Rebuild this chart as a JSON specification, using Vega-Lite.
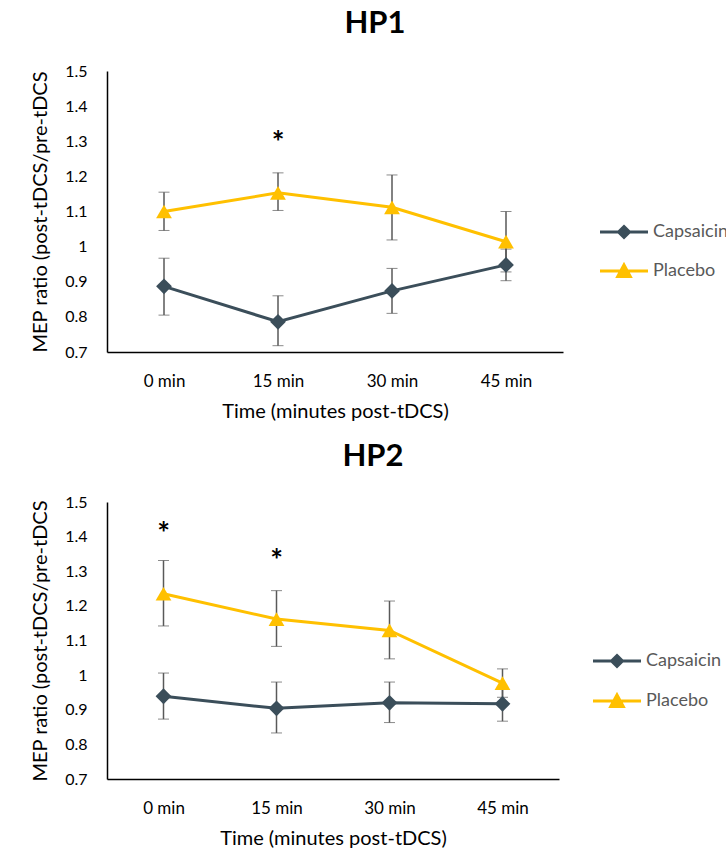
{
  "$schema": "https://vega.github.io/schema/vega-lite/v6.json",
  "padding": {"left": 30, "top": 8, "right": 0, "bottom": 0},
  "background": "white",
  "config": {
    "font": "Lato",
    "view": {"stroke": null},
    "axis": {"grid": false, "ticks": false, "tickSize": 0, "domainColor": "#000000", "domainWidth": 1.5, "labelColor": "#000000", "titleColor": "#000000", "labelFont": "Lato", "titleFont": "Lato", "titleFontWeight": "normal", "labelOverlap": false},
    "title": {"font": "Lato", "fontSize": 31, "fontWeight": "bold", "color": "#000000"},
    "legend": {"padding": 0, "rowPadding": 15}
  },
  "datasets": {
    "hp1": [
      {"group": "Capsaicin", "time": "0 min", "mean": 0.887, "lo": 0.805, "hi": 0.967},
      {"group": "Capsaicin", "time": "15 min", "mean": 0.786, "lo": 0.718, "hi": 0.860},
      {"group": "Capsaicin", "time": "30 min", "mean": 0.874, "lo": 0.810, "hi": 0.938},
      {"group": "Capsaicin", "time": "45 min", "mean": 0.948, "lo": 0.903, "hi": 0.993},
      {"group": "Placebo", "time": "0 min", "mean": 1.100, "lo": 1.046, "hi": 1.155},
      {"group": "Placebo", "time": "15 min", "mean": 1.153, "lo": 1.103, "hi": 1.210},
      {"group": "Placebo", "time": "30 min", "mean": 1.112, "lo": 1.019, "hi": 1.204},
      {"group": "Placebo", "time": "45 min", "mean": 1.014, "lo": 0.928, "hi": 1.100}
    ],
    "hp2": [
      {"group": "Capsaicin", "time": "0 min", "mean": 0.939, "lo": 0.873, "hi": 1.006},
      {"group": "Capsaicin", "time": "15 min", "mean": 0.904, "lo": 0.833, "hi": 0.980},
      {"group": "Capsaicin", "time": "30 min", "mean": 0.920, "lo": 0.863, "hi": 0.980},
      {"group": "Capsaicin", "time": "45 min", "mean": 0.917, "lo": 0.867, "hi": 0.967},
      {"group": "Placebo", "time": "0 min", "mean": 1.235, "lo": 1.142, "hi": 1.331},
      {"group": "Placebo", "time": "15 min", "mean": 1.162, "lo": 1.083, "hi": 1.244},
      {"group": "Placebo", "time": "30 min", "mean": 1.129, "lo": 1.047, "hi": 1.214},
      {"group": "Placebo", "time": "45 min", "mean": 0.977, "lo": 0.936, "hi": 1.018}
    ],
    "stars1": [
      {"time": "15 min", "y": 1.32, "label": "*"}
    ],
    "stars2": [
      {"time": "0 min", "y": 1.433, "label": "*"},
      {"time": "15 min", "y": 1.357, "label": "*"}
    ]
  },
  "spacing": 20,
  "resolve": {"legend": {"color": "independent", "shape": "independent", "stroke": "independent"}},
  "vconcat": [
    {
      "title": {"text": "HP1", "anchor": "middle", "dx": 40, "offset": 23},
      "width": 456,
      "height": 281,
      "data": {"name": "hp1"},
      "resolve": {"scale": {"shape": "independent", "color": "independent", "stroke": "independent"}},
      "encoding": {
        "x": {"field": "time", "type": "ordinal", "sort": ["0 min", "15 min", "30 min", "45 min"], "scale": {"type": "point", "padding": 0.5},
          "axis": {"title": "Time (minutes post-tDCS)", "labelAngle": 0, "labelFontSize": 17, "labelPadding": 21, "titleFontSize": 20, "titlePadding": 12}}
      },
      "layer": [
        {
          "mark": {"type": "line", "strokeWidth": 3},
          "encoding": {
            "y": {"field": "mean", "type": "quantitative", "title": "MEP ratio (post-tDCS/pre-tDCS", "scale": {"domain": [0.7, 1.5], "nice": false, "zero": false},
              "axis": {"values": [0.7, 0.8, 0.9, 1.0, 1.1, 1.2, 1.3, 1.4, 1.5], "format": ".1~f", "labelOverlap": false, "labelFontSize": 16, "labelPadding": 20, "titleFontSize": 20, "titlePadding": 14}},
            "color": {"field": "group", "type": "nominal", "scale": {"domain": ["Capsaicin", "Placebo"], "range": ["#3B4E5A", "#FFC000"]}, "legend": null}
          }
        },
        {
          "mark": {"type": "errorbar", "ticks": {"size": 11, "color": "#595959", "strokeWidth": 1.5}, "rule": {"color": "#595959", "strokeWidth": 1.5}},
          "encoding": {
            "y": {"field": "lo", "type": "quantitative", "title": "MEP ratio (post-tDCS/pre-tDCS",
              "axis": {"values": [0.7, 0.8, 0.9, 1.0, 1.1, 1.2, 1.3, 1.4, 1.5], "format": ".1~f", "labelOverlap": false, "labelFontSize": 16, "labelPadding": 20, "titleFontSize": 20, "titlePadding": 14}},
            "y2": {"field": "hi"}
          }
        },
        {
          "mark": {"type": "point", "filled": true, "opacity": 1, "size": 250},
          "encoding": {
            "y": {"field": "mean", "type": "quantitative", "title": "MEP ratio (post-tDCS/pre-tDCS",
              "axis": {"values": [0.7, 0.8, 0.9, 1.0, 1.1, 1.2, 1.3, 1.4, 1.5], "format": ".1~f", "labelOverlap": false, "labelFontSize": 16, "labelPadding": 20, "titleFontSize": 20, "titlePadding": 14}},
            "color": {"field": "group", "type": "nominal", "scale": {"domain": ["Capsaicin", "Placebo"], "range": ["#3B4E5A", "#FFC000"]}, "legend": null},
            "shape": {"field": "group", "type": "nominal", "scale": {"domain": ["Capsaicin", "Placebo"], "range": ["diamond", "triangle-up"]}, "legend": null}
          }
        },
        {
          "mark": {"type": "point", "filled": true, "opacity": 0, "strokeWidth": 3},
          "encoding": {
            "y": {"field": "mean", "type": "quantitative", "title": "MEP ratio (post-tDCS/pre-tDCS",
              "axis": {"values": [0.7, 0.8, 0.9, 1.0, 1.1, 1.2, 1.3, 1.4, 1.5], "format": ".1~f", "labelOverlap": false, "labelFontSize": 16, "labelPadding": 20, "titleFontSize": 20, "titlePadding": 14}},
            "color": {"field": "group", "type": "nominal", "scale": {"domain": ["Capsaicin", "Placebo"], "range": ["#3B4E5A", "#FFC000"]},
              "legend": {"title": null, "orient": "none", "legendX": 508, "legendY": 152, "symbolSize": 100, "symbolOpacity": 1, "symbolStrokeWidth": 3, "labelOffset": 20, "labelFontSize": 18, "labelColor": "#595959", "labelFont": "Lato", "rowPadding": 15}},
            "stroke": {"field": "group", "type": "nominal", "scale": {"domain": ["Capsaicin", "Placebo"], "range": ["#3B4E5A", "#FFC000"]},
              "legend": {"title": null, "orient": "none", "legendX": 508, "legendY": 152, "symbolSize": 100, "symbolOpacity": 1, "symbolStrokeWidth": 3, "labelOffset": 20, "labelFontSize": 18, "labelColor": "#595959", "labelFont": "Lato", "rowPadding": 15}},
            "shape": {"field": "group", "type": "nominal", "scale": {"domain": ["Capsaicin", "Placebo"], "range": ["M-4.8,0H4.8M0,-1.1L1.1,0L0,1.1L-1.1,0Z", "M-4.8,0H4.8M0,-1.2L1.25,1.1L-1.25,1.1Z"]},
              "legend": {"title": null, "orient": "none", "legendX": 508, "legendY": 152, "symbolSize": 100, "symbolOpacity": 1, "symbolStrokeWidth": 3, "labelOffset": 20, "labelFontSize": 18, "labelColor": "#595959", "labelFont": "Lato", "rowPadding": 15}}
          }
        },
        {
          "data": {"name": "stars1"},
          "mark": {"type": "text", "fontSize": 30, "fontWeight": "bold", "baseline": "middle", "dy": 10, "color": "#000000"},
          "encoding": {
            "y": {"field": "y", "type": "quantitative", "title": "MEP ratio (post-tDCS/pre-tDCS",
              "axis": {"values": [0.7, 0.8, 0.9, 1.0, 1.1, 1.2, 1.3, 1.4, 1.5], "format": ".1~f", "labelOverlap": false, "labelFontSize": 16, "labelPadding": 20, "titleFontSize": 20, "titlePadding": 14}},
            "text": {"field": "label"}
          }
        }
      ]
    },
    {
      "title": {"text": "HP2", "anchor": "middle", "dx": 40, "offset": 21},
      "width": 452,
      "height": 277,
      "data": {"name": "hp2"},
      "resolve": {"scale": {"shape": "independent", "color": "independent", "stroke": "independent"}},
      "encoding": {
        "x": {"field": "time", "type": "ordinal", "sort": ["0 min", "15 min", "30 min", "45 min"], "scale": {"type": "point", "padding": 0.5},
          "axis": {"title": "Time (minutes post-tDCS)", "labelAngle": 0, "labelFontSize": 17, "labelPadding": 21, "titleFontSize": 20, "titlePadding": 12}}
      },
      "layer": [
        {
          "mark": {"type": "line", "strokeWidth": 3},
          "encoding": {
            "y": {"field": "mean", "type": "quantitative", "title": "MEP ratio (post-tDCS/pre-tDCS", "scale": {"domain": [0.7, 1.5], "nice": false, "zero": false},
              "axis": {"values": [0.7, 0.8, 0.9, 1.0, 1.1, 1.2, 1.3, 1.4, 1.5], "format": ".1~f", "labelOverlap": false, "labelFontSize": 16, "labelPadding": 20, "titleFontSize": 20, "titlePadding": 14}},
            "color": {"field": "group", "type": "nominal", "scale": {"domain": ["Capsaicin", "Placebo"], "range": ["#3B4E5A", "#FFC000"]}, "legend": null}
          }
        },
        {
          "mark": {"type": "errorbar", "ticks": {"size": 11, "color": "#595959", "strokeWidth": 1.5}, "rule": {"color": "#595959", "strokeWidth": 1.5}},
          "encoding": {
            "y": {"field": "lo", "type": "quantitative", "title": "MEP ratio (post-tDCS/pre-tDCS",
              "axis": {"values": [0.7, 0.8, 0.9, 1.0, 1.1, 1.2, 1.3, 1.4, 1.5], "format": ".1~f", "labelOverlap": false, "labelFontSize": 16, "labelPadding": 20, "titleFontSize": 20, "titlePadding": 14}},
            "y2": {"field": "hi"}
          }
        },
        {
          "mark": {"type": "point", "filled": true, "opacity": 1, "size": 250},
          "encoding": {
            "y": {"field": "mean", "type": "quantitative", "title": "MEP ratio (post-tDCS/pre-tDCS",
              "axis": {"values": [0.7, 0.8, 0.9, 1.0, 1.1, 1.2, 1.3, 1.4, 1.5], "format": ".1~f", "labelOverlap": false, "labelFontSize": 16, "labelPadding": 20, "titleFontSize": 20, "titlePadding": 14}},
            "color": {"field": "group", "type": "nominal", "scale": {"domain": ["Capsaicin", "Placebo"], "range": ["#3B4E5A", "#FFC000"]}, "legend": null},
            "shape": {"field": "group", "type": "nominal", "scale": {"domain": ["Capsaicin", "Placebo"], "range": ["diamond", "triangle-up"]}, "legend": null}
          }
        },
        {
          "mark": {"type": "point", "filled": true, "opacity": 0, "strokeWidth": 3},
          "encoding": {
            "y": {"field": "mean", "type": "quantitative", "title": "MEP ratio (post-tDCS/pre-tDCS",
              "axis": {"values": [0.7, 0.8, 0.9, 1.0, 1.1, 1.2, 1.3, 1.4, 1.5], "format": ".1~f", "labelOverlap": false, "labelFontSize": 16, "labelPadding": 20, "titleFontSize": 20, "titlePadding": 14}},
            "color": {"field": "group", "type": "nominal", "scale": {"domain": ["Capsaicin", "Placebo"], "range": ["#3B4E5A", "#FFC000"]},
              "legend": {"title": null, "orient": "none", "legendX": 501, "legendY": 150, "symbolSize": 100, "symbolOpacity": 1, "symbolStrokeWidth": 3, "labelOffset": 20, "labelFontSize": 18, "labelColor": "#595959", "labelFont": "Lato", "rowPadding": 16}},
            "stroke": {"field": "group", "type": "nominal", "scale": {"domain": ["Capsaicin", "Placebo"], "range": ["#3B4E5A", "#FFC000"]},
              "legend": {"title": null, "orient": "none", "legendX": 501, "legendY": 150, "symbolSize": 100, "symbolOpacity": 1, "symbolStrokeWidth": 3, "labelOffset": 20, "labelFontSize": 18, "labelColor": "#595959", "labelFont": "Lato", "rowPadding": 16}},
            "shape": {"field": "group", "type": "nominal", "scale": {"domain": ["Capsaicin", "Placebo"], "range": ["M-4.8,0H4.8M0,-1.1L1.1,0L0,1.1L-1.1,0Z", "M-4.8,0H4.8M0,-1.2L1.25,1.1L-1.25,1.1Z"]},
              "legend": {"title": null, "orient": "none", "legendX": 501, "legendY": 150, "symbolSize": 100, "symbolOpacity": 1, "symbolStrokeWidth": 3, "labelOffset": 20, "labelFontSize": 18, "labelColor": "#595959", "labelFont": "Lato", "rowPadding": 16}}
          }
        },
        {
          "data": {"name": "stars2"},
          "mark": {"type": "text", "fontSize": 30, "fontWeight": "bold", "baseline": "middle", "dy": 10, "color": "#000000"},
          "encoding": {
            "y": {"field": "y", "type": "quantitative", "title": "MEP ratio (post-tDCS/pre-tDCS",
              "axis": {"values": [0.7, 0.8, 0.9, 1.0, 1.1, 1.2, 1.3, 1.4, 1.5], "format": ".1~f", "labelOverlap": false, "labelFontSize": 16, "labelPadding": 20, "titleFontSize": 20, "titlePadding": 14}},
            "text": {"field": "label"}
          }
        }
      ]
    }
  ]
}
